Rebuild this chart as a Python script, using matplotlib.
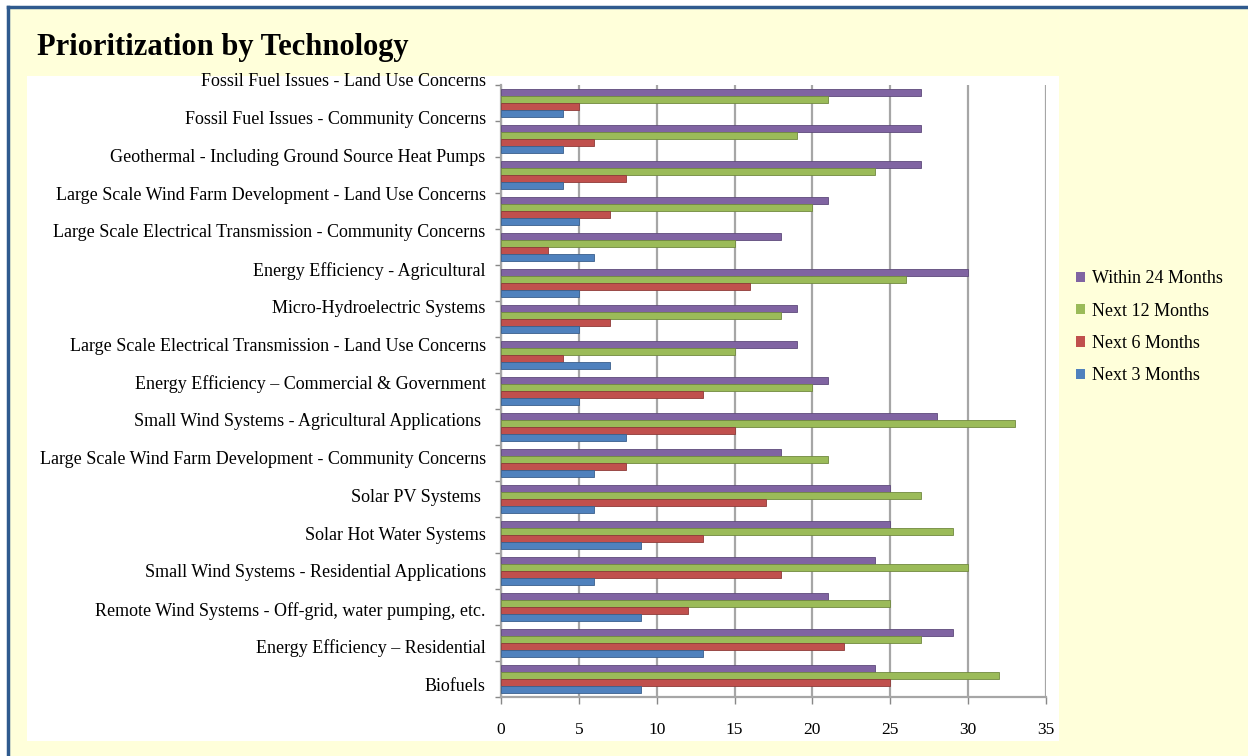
import numpy as np
import matplotlib.pyplot as plt
from matplotlib.patches import Rectangle, Patch
from matplotlib.lines import Line2D

# data, bottom category first
categories = [
    "Biofuels",
    "Energy Efficiency \u2013 Residential",
    "Remote Wind Systems - Off-grid, water pumping, etc.",
    "Small Wind Systems - Residential Applications",
    "Solar Hot Water Systems",
    "Solar PV Systems ",
    "Large Scale Wind Farm Development - Community Concerns",
    "Small Wind Systems - Agricultural Applications ",
    "Energy Efficiency \u2013 Commercial & Government",
    "Large Scale Electrical Transmission - Land Use Concerns",
    "Micro-Hydroelectric Systems",
    "Energy Efficiency - Agricultural",
    "Large Scale Electrical Transmission - Community Concerns",
    "Large Scale Wind Farm Development - Land Use Concerns",
    "Geothermal - Including Ground Source Heat Pumps",
    "Fossil Fuel Issues - Community Concerns",
    "Fossil Fuel Issues - Land Use Concerns",
]
within_24 = [24, 29, 21, 24, 25, 25, 18, 28, 21, 19, 19, 30, 18, 21, 27, 27, 27]
next_12 = [32, 27, 25, 30, 29, 27, 21, 33, 20, 15, 18, 26, 15, 20, 24, 19, 21]
next_6 = [25, 22, 12, 18, 13, 17, 8, 15, 13, 4, 7, 16, 3, 7, 8, 6, 5]
next_3 = [9, 13, 9, 6, 9, 6, 6, 8, 5, 7, 5, 5, 6, 5, 4, 4, 4]

series = [
    ("Within 24 Months", within_24, "#8064A2", 0.3),
    ("Next 12 Months", next_12, "#9BBB59", 0.1),
    ("Next 6 Months", next_6, "#C0504D", -0.1),
    ("Next 3 Months", next_3, "#4F81BD", -0.3),
]
edge = {"#8064A2": "#5E4A7A", "#9BBB59": "#71893F", "#C0504D": "#8E3A38", "#4F81BD": "#3A5F8C"}

W, H = 1248, 756
fig = plt.figure(figsize=(W / 100, H / 100), dpi=100)
fig.patch.set_facecolor("white")

def fx(px):
    return px / W

def fy(py):
    return 1 - py / H

# yellow panel with blue border on left / top
fig.patches.append(Rectangle((fx(8), 0), 1, fy(7), transform=fig.transFigure,
                             facecolor="#FFFFDA", edgecolor="none", zorder=-2))
fig.lines.append(Line2D([fx(8), fx(8)], [0, fy(7)], transform=fig.transFigure,
                        color="#2F5A8E", lw=2.5, zorder=-1))
fig.lines.append(Line2D([fx(8), 1], [fy(7), fy(7)], transform=fig.transFigure,
                        color="#2F5A8E", lw=2.5, zorder=-1))
# white chart area
fig.patches.append(Rectangle((fx(27), fy(741)), fx(1059) - fx(27), fy(76) - fy(741),
                             transform=fig.transFigure, facecolor="white",
                             edgecolor="none", zorder=-1))

fig.text(fx(37), fy(55), "Prioritization by Technology", fontsize=22,
         fontweight="bold", family="Liberation Serif", va="baseline", ha="left")

# bar axes
ax = fig.add_axes([fx(501), fy(697), fx(1046) - fx(501), fy(85) - fy(697)])
ax.set_facecolor("none")
y = np.arange(len(categories))
for name, vals, col, off in series:
    ax.barh(y + off, vals, height=0.2, color=col, edgecolor=edge[col],
            linewidth=0.6, label=name, zorder=3)

ax.set_xlim(0, 35)
ax.set_ylim(-0.5, len(categories) - 0.5)
ax.set_xticks(np.arange(0, 36, 5))
ax.xaxis.grid(True, color="#A6A6A6", lw=1.6, zorder=0)
ax.set_axisbelow(True)
ax.set_yticks([])
ax.set_yticks(np.arange(-0.5, len(categories), 1), minor=True)
ax.tick_params(axis="y", which="minor", length=4, color="#888888", width=1)
ax.tick_params(axis="x", length=5, color="#888888", width=1, pad=13,
               labelsize=12.5, labelfontfamily="Liberation Serif")
for s in ["top", "right"]:
    ax.spines[s].set_visible(False)
ax.spines["left"].set_color("#A6A6A6")
ax.spines["left"].set_linewidth(1.6)
ax.spines["bottom"].set_color("#A6A6A6")
ax.spines["bottom"].set_linewidth(1.6)

# category label axis (labels sit slightly apart from the bars, as in the 3D chart)
lab = fig.add_axes([fx(501), fy(703), 0.0001, fy(61) - fy(703)])
lab.set_ylim(-0.5, len(categories) - 0.5)
lab.set_yticks(y)
lab.set_yticklabels(categories, fontsize=13, family="Liberation Serif")
lab.tick_params(axis="y", length=0, pad=11)
lab.set_xticks([])
for s in lab.spines.values():
    s.set_visible(False)
lab.patch.set_visible(False)

handles = [Patch(facecolor=c, edgecolor="none") for _, _, c, _ in series]
fig.legend(handles, [n for n, _, _, _ in series], loc="upper left",
           bbox_to_anchor=(fx(1060), fy(254)), frameon=False,
           prop={"family": "Liberation Serif", "size": 13},
           handlelength=0.5, handleheight=0.5, handletextpad=0.4,
           labelspacing=0.85)

fig.savefig("out.png", dpi=100)
